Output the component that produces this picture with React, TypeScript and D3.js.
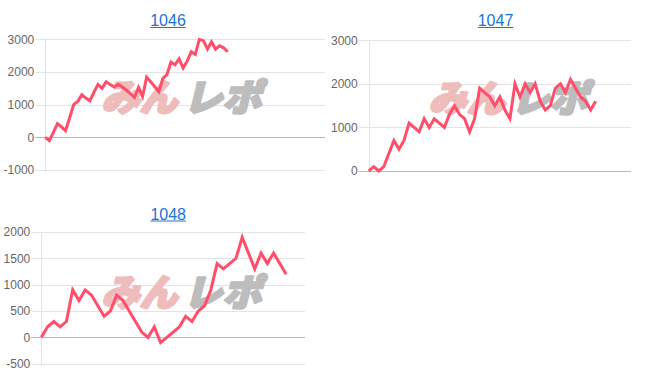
import React from 'react';
import * as d3 from 'd3';

const titles = ['1046', '1047', '1048'];

const series1046 = [
  0, -100, 150, 420, 320, 200, 600, 1000, 1100, 1300, 1200, 1120, 1380, 1620, 1500, 1700,
  1620, 1540, 1620, 1540, 1440, 1340, 1220, 1530, 1250, 1840, 1700, 1550, 1400, 1800, 1920,
  2300, 2220, 2400, 2120, 2330, 2620, 2540, 3000, 2960, 2700, 2920, 2700, 2800, 2740, 2620,
];
const series1047 = [
  0, 100, 0, 100, 400, 700, 500, 700, 1100, 1000, 900, 1200, 1000, 1200, 1100, 1000, 1300,
  1500, 1300, 1200, 900, 1200, 1900, 1800, 1700, 1500, 1700, 1400, 1200, 2000, 1700, 2000,
  1800, 2000, 1600, 1400, 1500, 1900, 2000, 1800, 2100, 1900, 1700, 1600, 1400, 1600,
];
const series1048 = [
  0, 200, 300, 200, 300, 900, 700, 900, 800, 600, 400, 500, 800, 700, 500, 300, 100, 0, 200,
  -100, 0, 100, 200, 400, 300, 500, 600, 900, 1400, 1300, 1400, 1500, 1900, 1600, 1300, 1600,
  1400, 1600, 1400, 1200,
];

const ticks1046 = [-1000, 0, 1000, 2000, 3000];
const ticks1047 = [0, 1000, 2000, 3000];
const ticks1048 = [-500, 0, 500, 1000, 1500, 2000];

const slotCounts = [69, 52, 42];

const watermarkLeft = 'みん';
const watermarkRight = 'レポ';

const layouts = [
  { left: 45.3, right: 325, top: 39.3, bottom: 170, tx: 168, ty: 26, wx: 185.5, wy: 95 },
  { left: 368.7, right: 631, top: 40.3, bottom: 171, tx: 495.5, ty: 26, wx: 512.7, wy: 96 },
  { left: 41.3, right: 305, top: 232, bottom: 363.7, tx: 168.2, ty: 219.5, wx: 185.5, wy: 289.7 },
];

const allSeries = [series1046, series1047, series1048];
const allTicks = [ticks1046, ticks1047, ticks1048];

const LINE = 'rgb(255,77,106)';
const FONT = '"Liberation Sans", Arial, Helvetica, sans-serif';
const CJK = '"Noto Sans CJK JP", sans-serif';

function Chart({ idx }: { idx: number }) {
  const L = layouts[idx];
  const data = allSeries[idx];
  const ticks = allTicks[idx];
  const x = d3.scaleLinear().domain([0, slotCounts[idx]]).range([L.left, L.right]);
  const y = d3
    .scaleLinear()
    .domain([ticks[0], ticks[ticks.length - 1]])
    .range([L.bottom, L.top]);
  const line = d3
    .line<number>()
    .x((_, i) => x(i))
    .y((d) => y(d));
  const underlineW = 35.5;
  return (
    <g>
      <text x={L.tx} y={L.ty} textAnchor="middle" fontFamily={FONT} fontSize={16} fill="#1a73d9">
        {titles[idx]}
      </text>
      <line
        x1={L.tx - underlineW / 2}
        x2={L.tx + underlineW / 2}
        y1={L.ty + 1.5}
        y2={L.ty + 1.5}
        stroke="#1a73d9"
        strokeWidth={1}
      />
      {ticks.map((t) => (
        <g key={t}>
          <line
            x1={L.left - 10}
            x2={L.right}
            y1={Math.round(y(t)) + 0.5}
            y2={Math.round(y(t)) + 0.5}
            stroke={t === 0 ? '#b8b8b8' : '#e3e3e3'}
            strokeWidth={1}
          />
          <text
            x={L.left - 11}
            y={y(t)}
            dy="0.35em"
            textAnchor="end"
            fontFamily={FONT}
            fontSize={12}
            fill="#666"
          >
            {t}
          </text>
        </g>
      ))}
      <line
        x1={Math.round(L.left) + 0.5}
        x2={Math.round(L.left) + 0.5}
        y1={L.top}
        y2={L.bottom + 2}
        stroke="#e3e3e3"
        strokeWidth={1}
      />
      <g transform={`translate(${L.wx},${L.wy}) skewX(-14)`}>
        <text
          x={-80}
          y={0}
          dominantBaseline="central"
          fontFamily={CJK}
          fontWeight={900}
          fontSize={37}
          fill="#efbcbc"
          stroke="#efbcbc"
          strokeWidth={2.5}
          strokeLinejoin="round"
          textLength={76}
          lengthAdjust="spacingAndGlyphs"
        >
          {watermarkLeft}
        </text>
        <text
          x={2}
          y={0}
          dominantBaseline="central"
          fontFamily={CJK}
          fontWeight={900}
          fontSize={37}
          fill="#bdbdbd"
          stroke="#bdbdbd"
          strokeWidth={2.5}
          strokeLinejoin="round"
          textLength={78}
          lengthAdjust="spacingAndGlyphs"
        >
          {watermarkRight}
        </text>
      </g>
      <path d={line(data) || ''} fill="none" stroke={LINE} strokeWidth={3} strokeLinejoin="miter" />
    </g>
  );
}

export default function App() {
  return (
    <svg width={652} height={382} style={{ position: 'absolute', left: 0, top: 0, background: '#fff' }}>
      {[0, 1, 2].map((i) => (
        <Chart key={i} idx={i} />
      ))}
    </svg>
  );
}
